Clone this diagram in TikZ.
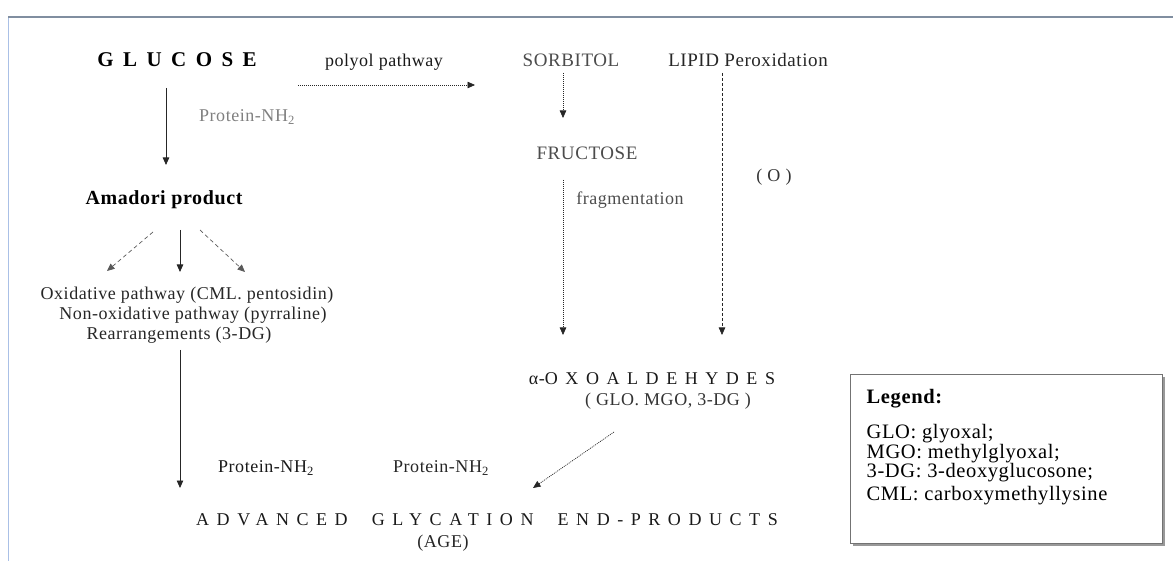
\documentclass[tikz,border=0pt]{standalone}
\usepackage{fontspec}
\usepackage{xcolor}
\usepackage{tikz}
\usetikzlibrary{calc, arrows.meta, shadows}
\setmainfont{Liberation Serif}[LetterSpace=3]
\newfontfamily\spreadfont{Liberation Serif}[LetterSpace=42]
\newfontfamily\glufont{Liberation Serif}[LetterSpace=45]
\definecolor{framec}{RGB}{128,142,160}
\definecolor{framel}{RGB}{170,192,230}
\newcommand{\basesize}{\fontsize{18}{20}\selectfont}
\newcommand{\midsize}{\fontsize{19}{21}\selectfont}
\newcommand{\legsize}{\fontsize{20.5}{22}\selectfont}

\begin{document}
\begin{tikzpicture}[x=1pt, y=-1pt, font=\basesize,
  txt/.style={inner sep=0pt, text=black!90},
  solidarr/.style={draw=black!85, line width=0.8pt, -{Triangle[length=7.5pt,width=6.5pt]}},
  dotarr/.style={solidarr, dash pattern=on 1pt off 1pt, line width=0.7pt},
  dasharr/.style={solidarr, dash pattern=on 3pt off 2pt, line width=0.7pt},
  sidearr/.style={solidarr, draw=black!65, dash pattern=on 4pt off 3pt, line width=0.7pt}]

\useasboundingbox (0,0) rectangle (1173,561);

%% ── page frame (top rule + left rule) ────────────────────────────
\draw[framec, line width=2.5pt] (8,17) -- (1173,17);
\draw[framel, line width=1pt] (8,18) -- (8,561);

%% ── top row ──────────────────────────────────────────────────────
\node[txt, text=black, font=\glufont\fontsize{21}{23}\selectfont\bfseries] (glucose) at (177,60) {GLUCOSE};
\node[txt] (polyol) at (384,62) {polyol pathway};
\node[txt, text=black!70, font=\midsize] (sorbitol) at (571,60) {SORBITOL};
\node[txt, text=black!85, font=\midsize] (lipid) at (748,60) {LIPID Peroxidation};

%% ── sorbitol branch ──────────────────────────────────────────────
\node[txt, text=black!50] (pnhtop) at (247,117) {Protein-NH\textsubscript{2}};
\node[txt, text=black!70, font=\midsize] (fructose) at (587,153) {FRUCTOSE};
\node[txt, text=black!80] (oxyg) at (774,177) {( O )};
\node[txt, text=black!70] (frag) at (630,200) {fragmentation};

%% ── Amadori branch ───────────────────────────────────────────────
\node[txt, text=black, font=\fontsize{20}{22}\selectfont\bfseries] (amadori) at (164,200) {Amadori product};
\node[txt, text=black!85] (oxid)  at (187,295) {Oxidative pathway (CML. pentosidin)};
\node[txt, text=black!85] (nonox) at (193,315) {Non-oxidative pathway (pyrraline)};
\node[txt, text=black!85] (rearr) at (179,335) {Rearrangements (3-DG)};

%% ── dicarbonyls + end products ───────────────────────────────────
\node[txt, font=\spreadfont\basesize] (oxo) at (652,379) {{\rmfamily α-}OXOALDEHYDES};
\node[txt, text=black!80] (oxolist) at (668,401) {( GLO. MGO, 3-DG )};
\node[txt] (pnha) at (266,468) {Protein-NH\textsubscript{2}};
\node[txt, text=black!85] (pnhb) at (441,468) {Protein-NH\textsubscript{2}};
\node[txt, font=\spreadfont\basesize] (age) at (487,520) {ADVANCED\ \ GLYCATION\ \ END-PRODUCTS};
\node[txt, text=black!85] (agelab) at (443,543) {(AGE)};

%% ── connectors ───────────────────────────────────────────────────
\draw[dotarr]   ($(glucose)+(121,25)$) -- ($(sorbitol)+(-96,25)$);
\draw[solidarr] ($(glucose)+(-11,28)$) -- ($(amadori)+(2,-35)$);
\draw[dotarr]   ($(sorbitol)+(-8,13)$) -- ($(fructose)+(-24,-35)$);
\draw[dotarr]   ($(fructose)+(-24,27)$) -- ($(oxo)+(-89,-44)$);
\draw[dasharr]  ($(lipid)+(-26,13)$) -- ($(oxo)+(70,-44)$);
% three routes out of the Amadori product
\draw[sidearr]  ($(amadori)+(-11,32)$) -- ($(oxid)+(-80,-24)$);
\draw[solidarr] ($(amadori)+(16,30)$) -- ($(oxid)+(-7,-23)$);
\draw[sidearr]  ($(amadori)+(36,30)$) -- ($(oxid)+(58,-23)$);
\draw[solidarr] ($(rearr)+(1,15)$) -- ($(age)+(-307,-32)$);
\draw[dotarr]   ($(oxolist)+(-54,31)$) -- ($(age)+(46,-32)$);

%% ── legend ───────────────────────────────────────────────────────
\node[draw=black!55, line width=1pt, fill=white, minimum width=312pt, minimum height=169pt,
      inner sep=0pt, drop shadow={shadow xshift=3pt, shadow yshift=-3pt, fill=black!40, opacity=1}]
  (legend) at (1006,458.5) {};
\node[txt, anchor=west, text=black, font=\legsize\bfseries] (leghead) at ($(legend.west)+(17,-60)$) {Legend:};
\foreach \k/\dy/\lab in {glo/-25/{GLO: glyoxal;}, mgo/-5/{MGO: methylglyoxal;},
                         dg/14/{3-DG: 3-deoxyglucosone;}, cml/37/{CML: carboxymethyllysine}}{
  \node[txt, anchor=west, text=black, font=\legsize] (leg\k) at ($(legend.west)+(17,\dy)$) {\lab};
}

\end{tikzpicture}
\end{document}
